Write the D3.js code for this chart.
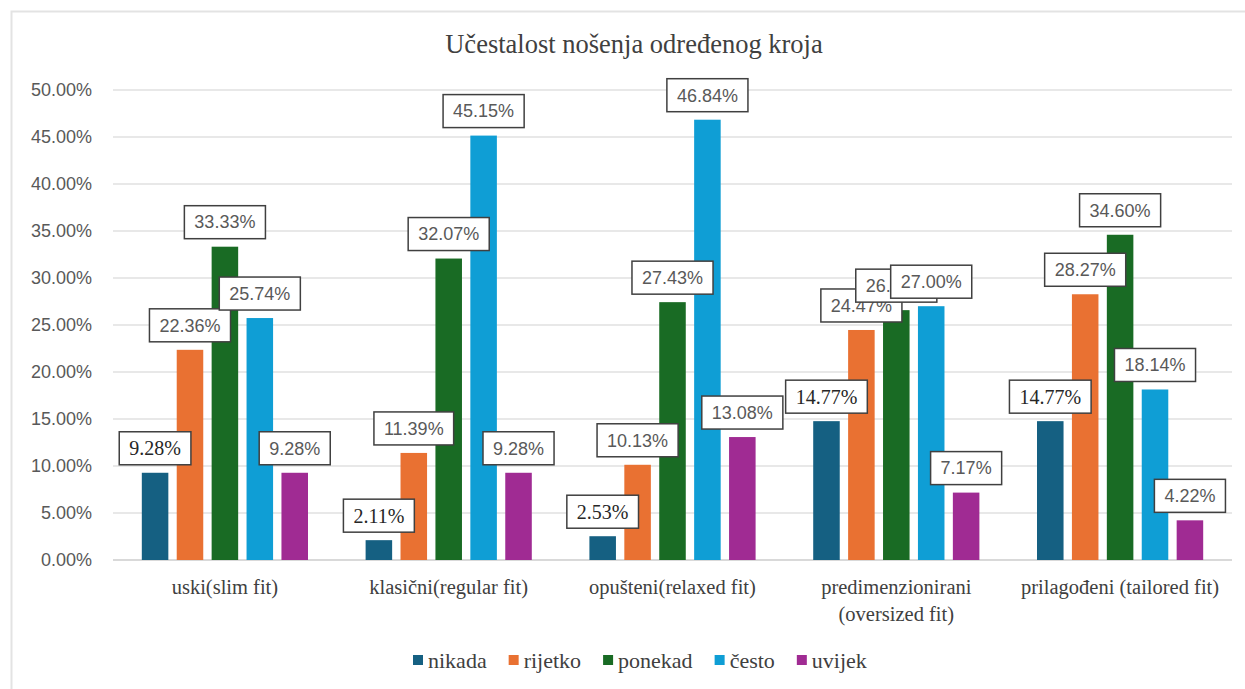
<!DOCTYPE html>
<html>
<head>
<meta charset="utf-8">
<script src="https://cdn.jsdelivr.net/npm/d3@7"></script>
<style>
  body { margin: 0; background: #fff; }
  svg { display: block; }
</style>
</head>
<body>
<div class="chart"></div>
<script>
// categories and series
const categories = ["uski(slim fit)", "klasični(regular fit)", "opušteni(relaxed fit)",
  "predimenzionirani (oversized fit)", "prilagođeni (tailored fit)"];
const seriesNames = ["nikada", "rijetko", "ponekad", "često", "uvijek"];
const nikada  = [9.28, 2.11, 2.53, 14.77, 14.77];
const rijetko = [22.36, 11.39, 10.13, 24.47, 28.27];
const ponekad = [33.33, 32.07, 27.43, 26.58, 34.60];
const cesto   = [25.74, 45.15, 46.84, 27.00, 18.14];
const uvijek  = [9.28, 9.28, 13.08, 7.17, 4.22];
const yTicks = [0, 5, 10, 15, 20, 25, 30, 35, 40, 45, 50];
const colors = ["#156082", "#E97132", "#196B24", "#0F9ED5", "#A02B93"];

const series = [nikada, rijetko, ponekad, cesto, uvijek];

const W = 1245, H = 689;
const margin = { top: 90, right: 13, bottom: 129, left: 113 },
    w = W - margin.left - margin.right,
    h = H - margin.top - margin.bottom;

const svg = d3.select("div.chart")
    .append("svg")
    .attr("width", W)
    .attr("height", H);

// outer frame
svg.append("rect")
    .attr("x", 11.5).attr("y", 11.5)
    .attr("width", W + 20).attr("height", H + 20)
    .attr("fill", "none")
    .attr("stroke", "#e3e3e3")
    .attr("stroke-width", 2);

// title
svg.append("text")
    .attr("x", 634).attr("y", 53)
    .attr("text-anchor", "middle")
    .attr("font-family", "Liberation Serif")
    .attr("font-size", "26.5px")
    .attr("fill", "#404040")
    .text("Učestalost nošenja određenog kroja");

const g = svg.append("g").attr("transform", `translate(${margin.left},${margin.top})`);

const x0 = d3.scaleBand().domain(categories).range([0, w])
    .paddingInner(0.22).paddingOuter(0.11);
const x1 = d3.scaleBand().domain(seriesNames).range([0, x0.bandwidth()])
    .paddingInner(0.24).paddingOuter(0.12);
const y = d3.scaleLinear().domain([0, 50]).range([h, 0]);

// gridlines
g.selectAll("line.grid")
    .data(yTicks)
    .enter().append("line")
    .attr("class", "grid")
    .attr("x1", 0).attr("x2", w)
    .attr("y1", d => y(d)).attr("y2", d => y(d))
    .attr("stroke", d => d === 0 ? "#d9d9d9" : "#e8e8e8")
    .attr("stroke-width", 2);

// y labels
g.selectAll("text.ytick")
    .data(yTicks)
    .enter().append("text")
    .attr("class", "ytick")
    .attr("x", -21)
    .attr("y", d => y(d))
    .attr("dy", "0.35em")
    .attr("text-anchor", "end")
    .attr("font-family", "Liberation Sans")
    .attr("font-size", "18px")
    .attr("fill", "#595959")
    .text(d => d.toFixed(2) + "%");

// category labels (wrap long ones)
const catLines = {
  "predimenzionirani (oversized fit)": ["predimenzionirani", "(oversized fit)"]
};
categories.forEach(c => {
  const lines = catLines[c] || [c];
  const t = g.append("text")
      .attr("x", x0(c) + x0.bandwidth() / 2)
      .attr("y", h + 34)
      .attr("text-anchor", "middle")
      .attr("font-family", "Liberation Serif")
      .attr("font-size", "20.5px")
      .attr("fill", "#404040");
  lines.forEach((l, i) => {
    t.append("tspan")
      .attr("x", x0(c) + x0.bandwidth() / 2)
      .attr("dy", i === 0 ? 0 : 27)
      .text(l);
  });
});

// bars
series.forEach((vals, si) => {
  g.selectAll(null)
    .data(vals)
    .enter().append("rect")
    .attr("x", (d, i) => x0(categories[i]) + x1(seriesNames[si]))
    .attr("y", d => y(d))
    .attr("width", x1.bandwidth())
    .attr("height", d => h - y(d))
    .attr("fill", colors[si]);
});

// data labels (later series drawn on top)
series.forEach((vals, si) => {
  const dark = si === 0;
  vals.forEach((v, i) => {
    const cx = x0(categories[i]) + x1(seriesNames[si]) + x1.bandwidth() / 2;
    const lg = g.append("g");
    const txt = lg.append("text")
      .attr("x", cx)
      .attr("y", y(v) - 8 - 16.5)
      .attr("dy", "0.35em")
      .attr("text-anchor", "middle")
      .attr("font-family", dark ? "Liberation Serif" : "Liberation Sans")
      .attr("font-size", dark ? "20px" : "18px")
      .attr("fill", dark ? "#262626" : "#595959")
      .text(v.toFixed(2) + "%");
    const bw = txt.node().getComputedTextLength() + 20;
    lg.insert("rect", "text")
      .attr("x", cx - bw / 2)
      .attr("y", y(v) - 8 - 33)
      .attr("width", bw)
      .attr("height", 33)
      .attr("fill", "#fff")
      .attr("stroke", "#404040")
      .attr("stroke-width", 1.5);
  });
});

// legend
const legend = svg.append("g");
let lx = 413;
seriesNames.forEach((s, i) => {
  legend.append("rect")
    .attr("x", lx).attr("y", 655)
    .attr("width", 10).attr("height", 10)
    .attr("fill", colors[i]);
  const t = legend.append("text")
    .attr("x", lx + 15).attr("y", 668)
    .attr("font-family", "Liberation Serif")
    .attr("font-size", "22px")
    .attr("fill", "#404040")
    .text(s);
  lx += 15 + t.node().getComputedTextLength() + 22;
});
</script>
</body>
</html>
